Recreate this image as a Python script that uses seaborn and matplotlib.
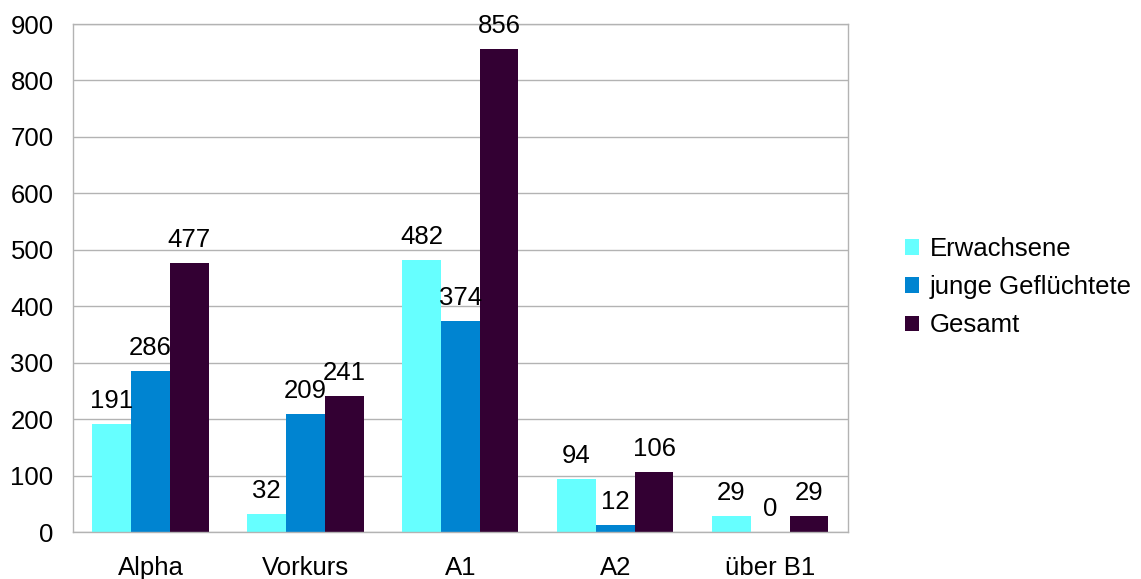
import matplotlib
matplotlib.use("Agg")
import matplotlib.pyplot as plt
import seaborn as sns
import pandas as pd
import numpy as np
from matplotlib.ticker import FixedLocator

categories = ["Alpha", "Vorkurs", "A1", "A2", "über B1"]
series_names = ["Erwachsene", "junge Geflüchtete", "Gesamt"]
erwachsene = [191, 32, 482, 94, 29]
junge = [286, 209, 374, 12, 0]
gesamt = [477, 241, 856, 106, 29]
colors = ["#66FFFF", "#0084D1", "#330033"]
yticks = [0, 100, 200, 300, 400, 500, 600, 700, 800, 900]

df = pd.DataFrame({
    "Kategorie": categories * 3,
    "Serie": [series_names[0]] * 5 + [series_names[1]] * 5 + [series_names[2]] * 5,
    "Wert": erwachsene + junge + gesamt,
})

sns.set_theme(style="white")
plt.rcParams["font.family"] = ["Liberation Sans", "DejaVu Sans"]
plt.rcParams["text.color"] = "black"
plt.rcParams["xtick.color"] = "black"
plt.rcParams["ytick.color"] = "black"

FS = 18.5

fig = plt.figure(figsize=(11.41, 5.79), dpi=100)
ax = fig.add_axes([0.064, 0.081, 0.679, 0.8775])

sns.barplot(data=df, x="Kategorie", y="Wert", hue="Serie", palette=colors,
            order=categories, hue_order=series_names, width=0.75,
            saturation=1, ax=ax, legend=True, linewidth=0, edgecolor="none")

for cont in ax.containers:
    ax.bar_label(cont, fmt="%d", padding=8, fontsize=FS, color="black")

ax.set_ylim(0, 900)
ax.set_xlim(-0.5, 4.5)
ax.set_yticks(yticks)
ax.set_yticklabels([str(v) for v in yticks], fontsize=FS)
ax.set_xlabel("")
ax.set_ylabel("")
ax.tick_params(axis="x", labelsize=FS, length=0, pad=17, labelcolor="black")
ax.tick_params(axis="y", length=8, width=1, color="#b3b3b3", direction="out", pad=6,
               labelcolor="black")
ax.xaxis.set_minor_locator(FixedLocator(np.arange(-0.5, 5.0, 1.0)))
ax.tick_params(axis="x", which="minor", length=8, width=1, color="#b3b3b3", direction="out")
ax.yaxis.grid(True, color="#b3b3b3", linewidth=1)
ax.set_axisbelow(True)
for s in ax.spines.values():
    s.set_visible(True)
    s.set_color("#b3b3b3")
    s.set_linewidth(1)

handles, labels = ax.get_legend_handles_labels()
leg = ax.legend(handles, labels, loc="center left", bbox_to_anchor=(1.051, 0.482),
                frameon=False, fontsize=FS, handlelength=0.55, handleheight=0.55,
                handletextpad=0.4, labelspacing=0.55, borderaxespad=0.3)
for t in leg.get_texts():
    t.set_color("black")

fig.savefig("out.png", dpi=100)
